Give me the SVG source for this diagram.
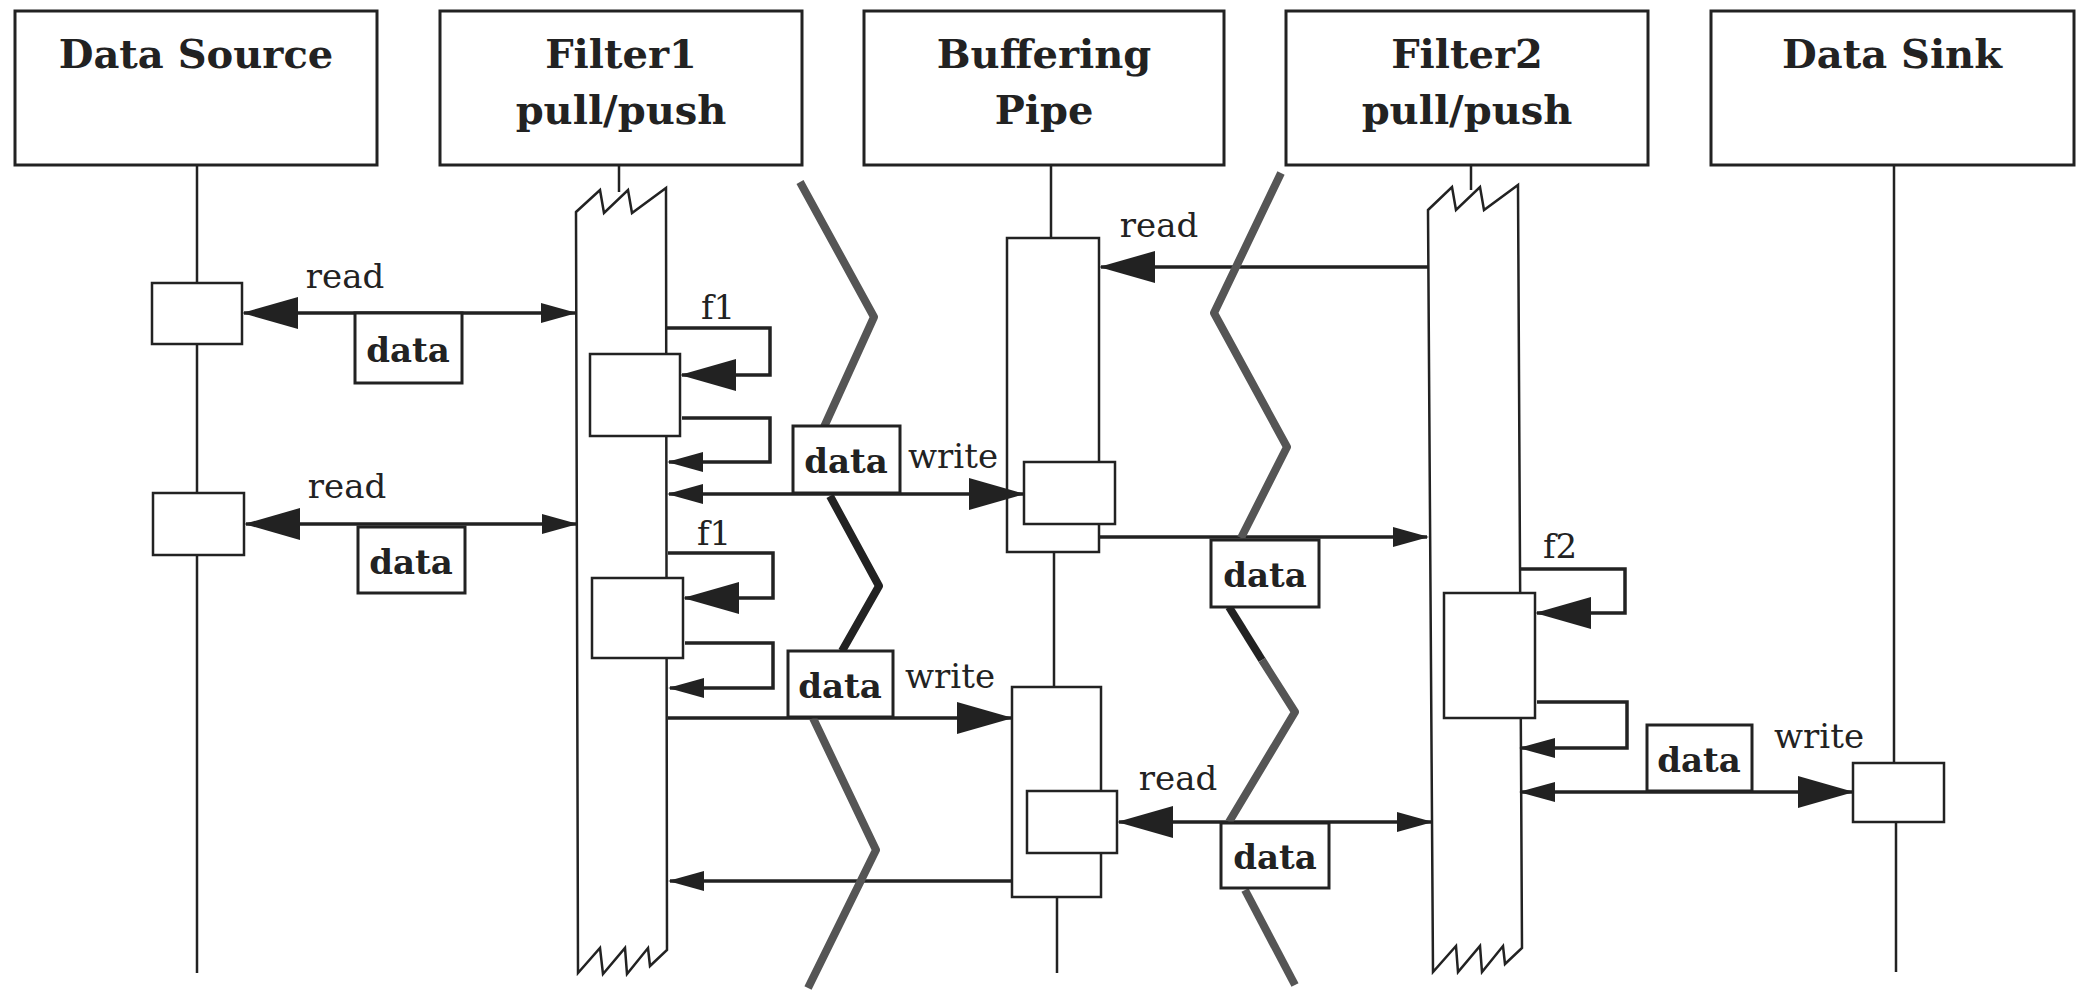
<svg xmlns="http://www.w3.org/2000/svg" width="2088" height="991" viewBox="0 0 2088 991">
<style>
.box{fill:#fff;stroke:#222;stroke-width:3}
.bar{fill:#fff;stroke:#222;stroke-width:2.5}
.life{stroke:#222;stroke-width:2.5;fill:none}
.hd{font-family:"DejaVu Serif",serif;font-weight:bold;font-size:40px;fill:#222;text-anchor:middle}
.lb{font-family:"DejaVu Serif",serif;font-size:34px;fill:#222;text-anchor:middle}
.dt{font-family:"DejaVu Serif",serif;font-weight:bold;font-size:34px;fill:#222;text-anchor:middle}
.msg{stroke:#222;stroke-width:3.5;fill:none}
.zz{fill:none;stroke:#555;stroke-width:8;stroke-linejoin:round}
.zzb{fill:none;stroke:#222;stroke-width:8;stroke-linejoin:round}
</style>
<defs>
<marker id="big" markerUnits="userSpaceOnUse" viewBox="0 0 56 32" refX="54" refY="16" markerWidth="56" markerHeight="32" orient="auto-start-reverse"><path d="M0,0 L56,16 L0,32 Z" fill="#222"/></marker>
<marker id="small" markerUnits="userSpaceOnUse" viewBox="0 0 36 20" refX="34" refY="10" markerWidth="36" markerHeight="20" orient="auto-start-reverse"><path d="M0,0 L36,10 L0,20 Z" fill="#222"/></marker>
</defs>
<rect width="2088" height="991" fill="#fff"/>

<g id="datasource">
<rect class="box" x="15" y="11" width="362" height="154"/>
<text class="hd" x="196" y="68">Data Source</text>
<path class="life" d="M197,165 V283 M197,344 V493 M197,555 V973"/>
<rect class="bar" x="152" y="283" width="90" height="61"/>
<rect class="bar" x="153" y="493" width="91" height="62"/>
</g>

<g id="filter1">
<rect class="box" x="440" y="11" width="362" height="154"/>
<text class="hd" x="621" y="68">Filter1</text>
<text class="hd" x="621" y="124">pull/push</text>
<path class="life" d="M619,165 V192"/>
<path class="bar" d="M576,212 L600,190 L604,213 L628,190 L632,213 L666,188 L667,950 L650,966 L648,948 L627,974 L625,948 L603,974 L600,948 L578,973 Z"/>
<rect class="bar" x="590" y="354" width="90" height="82"/>
<rect class="bar" x="592" y="578" width="91" height="80"/>
</g>

<g id="buffer">
<rect class="box" x="864" y="11" width="360" height="154"/>
<text class="hd" x="1044" y="68">Buffering</text>
<text class="hd" x="1044" y="124">Pipe</text>
<path class="life" d="M1051,165 V238 M1054,552 V687 M1057,897 V973"/>
<rect class="bar" x="1007" y="238" width="92" height="314"/>
<rect class="bar" x="1024" y="462" width="91" height="62"/>
<rect class="bar" x="1012" y="687" width="89" height="210"/>
<rect class="bar" x="1027" y="791" width="90" height="62"/>
</g>

<g id="filter2">
<rect class="box" x="1286" y="11" width="362" height="154"/>
<text class="hd" x="1467" y="68">Filter2</text>
<text class="hd" x="1467" y="124">pull/push</text>
<path class="life" d="M1471,165 V190"/>
<path class="bar" d="M1428,210 L1452,187 L1456,210 L1480,187 L1484,210 L1518,185 L1522,948 L1505,964 L1503,946 L1482,972 L1480,946 L1458,972 L1456,946 L1433,972 Z"/>
<rect class="bar" x="1444" y="593" width="91" height="125"/>
</g>

<g id="datasink">
<rect class="box" x="1711" y="11" width="363" height="154"/>
<text class="hd" x="1892" y="68">Data Sink</text>
<path class="life" d="M1894,165 V763 M1896,822 V972"/>
<rect class="bar" x="1853" y="763" width="91" height="59"/>
</g>

<g id="connectors">
<path class="msg" d="M575,313 H244" marker-end="url(#big)" marker-start="url(#small)"/>
<path class="msg" d="M576,524 H246" marker-end="url(#big)" marker-start="url(#small)"/>
<path class="msg" d="M667,328 H770 V375 H682" marker-end="url(#big)"/>
<path class="msg" d="M682,418 H770 V462 H669" marker-end="url(#small)"/>
<path class="msg" d="M669,494 H1023" marker-end="url(#big)" marker-start="url(#small)"/>
<path class="msg" d="M668,553 H773 V598 H685" marker-end="url(#big)"/>
<path class="msg" d="M685,643 H773 V688 H670" marker-end="url(#small)"/>
<path class="msg" d="M668,718 H1011" marker-end="url(#big)"/>
<path class="msg" d="M1012,881 H670" marker-end="url(#small)"/>
<path class="msg" d="M1428,267 H1101" marker-end="url(#big)"/>
<path class="msg" d="M1100,537 H1427" marker-end="url(#small)"/>
<path class="msg" d="M1519,569 H1625 V613 H1537" marker-end="url(#big)"/>
<path class="msg" d="M1537,702 H1627 V748 H1521" marker-end="url(#small)"/>
<path class="msg" d="M1521,792 H1852" marker-end="url(#big)" marker-start="url(#small)"/>
<path class="msg" d="M1431,822 H1119" marker-end="url(#big)" marker-start="url(#small)"/>
<text class="lb" x="345" y="288">read</text>
<text class="lb" x="347" y="498">read</text>
<text class="lb" x="718" y="319">f1</text>
<text class="lb" x="714" y="545">f1</text>
<text class="lb" x="953" y="468">write</text>
<text class="lb" x="950" y="688">write</text>
<text class="lb" x="1159" y="237">read</text>
<text class="lb" x="1560" y="558">f2</text>
<text class="lb" x="1178" y="790">read</text>
<text class="lb" x="1819" y="748">write</text>
</g>

<g id="thread-boundaries">
<polyline class="zz" points="800,182 874,317 824,427"/>
<polyline class="zzb" points="830,496 879,586 842,651"/>
<polyline class="zz" points="813,718 876,850 808,988"/>
<polyline class="zz" points="1281,173 1214,313 1287,447 1241,538"/>
<polyline class="zzb" points="1229,607 1262,660"/>
<polyline class="zz" points="1262,660 1295,712 1229,822"/>
<polyline class="zz" points="1245,890 1295,985"/>
</g>

<g id="data-tokens">
<rect class="box" x="355" y="313" width="107" height="70"/><text class="dt" x="408" y="362">data</text>
<rect class="box" x="358" y="527" width="107" height="66"/><text class="dt" x="411" y="574">data</text>
<rect class="box" x="793" y="426" width="107" height="67"/><text class="dt" x="846" y="473">data</text>
<rect class="box" x="788" y="651" width="105" height="66"/><text class="dt" x="840" y="698">data</text>
<rect class="box" x="1211" y="540" width="108" height="67"/><text class="dt" x="1265" y="587">data</text>
<rect class="box" x="1221" y="823" width="108" height="65"/><text class="dt" x="1275" y="869">data</text>
<rect class="box" x="1647" y="725" width="105" height="66"/><text class="dt" x="1699" y="772">data</text>
</g>
</svg>
